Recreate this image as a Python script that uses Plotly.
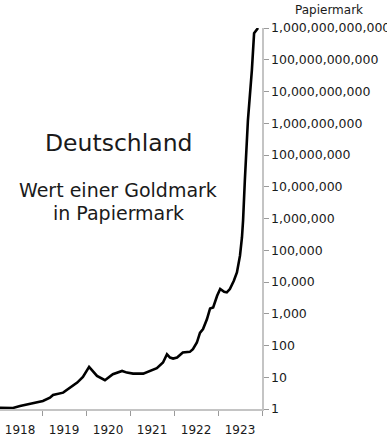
import plotly.graph_objects as go

# Fractional year positions and value of one Goldmark in Papiermark
years = [1918.045, 1918.34, 1918.50, 1918.73, 1918.89, 1919.02, 1919.18, 1919.25,
         1919.48, 1919.64, 1919.80, 1919.93, 1920.07, 1920.25, 1920.43, 1920.61,
         1920.82, 1920.93, 1921.07, 1921.30, 1921.45, 1921.61, 1921.75, 1921.84,
         1921.91, 1921.98, 1922.07, 1922.14, 1922.20, 1922.36, 1922.43, 1922.52,
         1922.59, 1922.66, 1922.75, 1922.82, 1922.89, 1922.98, 1923.05, 1923.14,
         1923.20, 1923.27, 1923.36, 1923.43, 1923.50, 1923.545, 1923.57, 1923.61,
         1923.68, 1923.77, 1923.80, 1923.82, 1923.91]
papiermark = [1.10, 1.08, 1.24, 1.47, 1.70, 1.79, 2.27, 2.77,
              3.27, 4.7, 6.8, 10.2, 21.2, 11.0, 8.06, 12.5,
              15.8, 14.0, 13.0, 13.0, 15.8, 19.3, 29, 53,
              41.7, 38.7, 41.7, 50.7, 60, 63, 76.7, 124,
              251, 329, 680, 1470, 1580, 3700, 6020, 4940,
              4700, 6020, 11000, 20100, 67700, 257000, 870000, 1.58e7,
              1.24e9, 4.7e10, 2.9e11, 6.8e11, 1.0e12]

year_labels = ["1918", "1919", "1920", "1921", "1922", "1923"]
year_label_pos = [1918.5, 1919.5, 1920.5, 1921.5, 1922.5, 1923.5]
year_bounds = [1919, 1920, 1921, 1922, 1923, 1924]

y_tickvals = [10 ** k for k in range(0, 13)]
y_ticktext = [f"{v:,}" for v in y_tickvals]

FONT = "DejaVu Sans"

fig = go.Figure()
fig.add_trace(go.Scatter(x=years, y=papiermark, mode="lines",
                         line=dict(color="black", width=2.6),
                         hoverinfo="skip", showlegend=False))

fig.update_layout(
    width=387, height=445,
    margin=dict(l=0, r=125, t=28, b=36),
    paper_bgcolor="white", plot_bgcolor="white",
    font=dict(family=FONT, color="#1a1a1a"),
    xaxis=dict(range=[1918.045, 1924.0], showgrid=False, zeroline=False,
               automargin=False,
               showline=True, linecolor="#c4c4c4", linewidth=1.5,
               tickmode="array", tickvals=year_label_pos, ticktext=year_labels,
               ticks="outside", ticklen=9, tickcolor="rgba(0,0,0,0)",
               tickfont=dict(size=12, family=FONT, color="#1a1a1a"),
               minor=dict(tickvals=year_bounds, ticks="outside", ticklen=5,
                          tickcolor="#9a9a9a", tickwidth=1, showgrid=False)),
    yaxis=dict(type="log", range=[0, 12], side="right", showgrid=False,
               automargin=False,
               zeroline=False, showline=True, linecolor="#c4c4c4", linewidth=1.5,
               tickmode="array", tickvals=y_tickvals, ticktext=y_ticktext,
               ticks="outside", ticklen=5, tickcolor="#9a9a9a", tickwidth=1,
               tickfont=dict(size=12.5, family=FONT, color="#1a1a1a")),
)

fig.add_annotation(text="Papiermark", xref="paper", yref="paper",
                   x=329 / 262, y=(409 - 10) / 381, showarrow=False,
                   xanchor="center", yanchor="middle",
                   font=dict(size=12, family=FONT, color="#1a1a1a"))
fig.add_annotation(text="Deutschland", xref="paper", yref="paper",
                   x=118 / 262, y=(409 - 143) / 381, showarrow=False,
                   xanchor="center", yanchor="middle",
                   font=dict(size=23.5, family=FONT, color="#1a1a1a"))
fig.add_annotation(text="Wert einer Goldmark", xref="paper", yref="paper",
                   x=118 / 262, y=(409 - 190) / 381, showarrow=False,
                   xanchor="center", yanchor="middle",
                   font=dict(size=19, family=FONT, color="#1a1a1a"))
fig.add_annotation(text="in Papiermark", xref="paper", yref="paper",
                   x=118 / 262, y=(409 - 213) / 381, showarrow=False,
                   xanchor="center", yanchor="middle",
                   font=dict(size=19, family=FONT, color="#1a1a1a"))

fig.write_html("out.html",
               config={"displayModeBar": False, "staticPlot": True},
               post_script="document.body.style.margin='0';document.body.style.overflow='hidden';")
